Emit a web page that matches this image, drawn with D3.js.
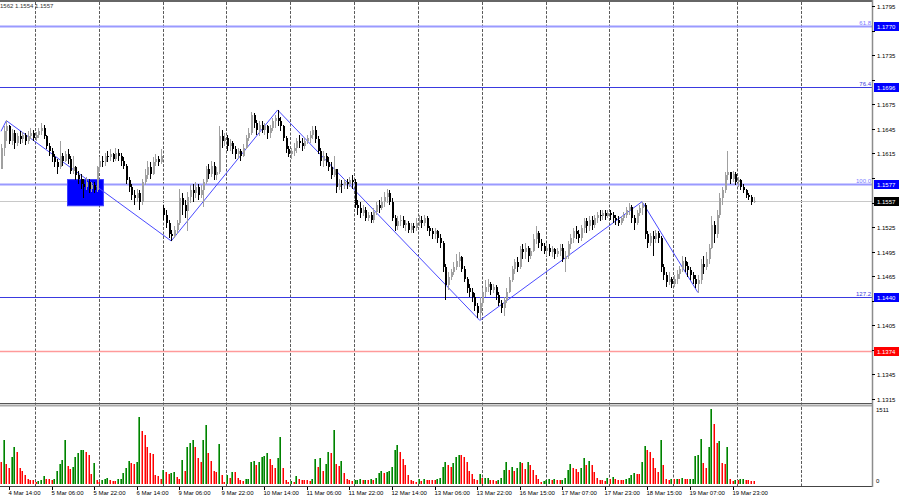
<!DOCTYPE html>
<html>
<head>
<meta charset="utf-8" />
<style>
body { margin:0; background:#fff; }
svg text { font-family: "Liberation Sans", Arial, sans-serif; font-size:6px; }
</style>
</head>
<body>
<svg id="chart" width="900" height="500" xmlns="http://www.w3.org/2000/svg"></svg>
<script src="https://d3js.org/d3.v7.min.js"></script>
<script>

// EURUSD H1, 4 Mar 11:00 .. 20 Mar 07:00, one entry per hourly bar
var opens = [
1.1596,1.1622,1.1642,1.1648,1.1630,1.1640,1.1628,1.1636,1.1632,1.1638,
1.1630,1.1636,1.1640,1.1634,1.1638,1.1642,1.1646,1.1636,1.1624,1.1618,
1.1610,1.1604,1.1598,1.1612,1.1606,1.1614,1.1608,1.1594,1.1598,1.1588,
1.1584,1.1578,1.1574,1.1580,1.1572,1.1576,1.1570,1.1598,1.1606,1.1604,
1.1612,1.1610,1.1614,1.1608,1.1616,1.1612,1.1606,1.1600,1.1582,1.1574,
1.1564,1.1560,1.1566,1.1556,1.1580,1.1588,1.1598,1.1590,1.1604,1.1608,
1.1604,1.1548,1.1540,1.1530,1.1516,1.1514,1.1522,1.1530,1.1560,1.1552,
1.1545,1.1562,1.1570,1.1566,1.1574,1.1564,1.1570,1.1580,1.1596,1.1590,
1.1600,1.1588,1.1592,1.1636,1.1630,1.1634,1.1624,1.1628,1.1620,1.1614,
1.1618,1.1612,1.1622,1.1634,1.1640,1.1662,1.1652,1.1644,1.1650,1.1644,
1.1648,1.1640,1.1646,1.1654,1.1658,1.1654,1.1648,1.1634,1.1620,1.1614,
1.1618,1.1622,1.1630,1.1628,1.1624,1.1630,1.1634,1.1638,1.1644,1.1632,
1.1618,1.1606,1.1612,1.1604,1.1598,1.1588,1.1596,1.1574,1.1578,1.1576,
1.1580,1.1578,1.1582,1.1580,1.1552,1.1548,1.1542,1.1546,1.1536,1.1540,
1.1534,1.1544,1.1552,1.1548,1.1556,1.1562,1.1566,1.1556,1.1536,1.1526,
1.1532,1.1534,1.1528,1.1530,1.1522,1.1526,1.1524,1.1530,1.1534,1.1530,
1.1536,1.1524,1.1520,1.1516,1.1520,1.1512,1.1506,1.1476,1.1454,1.1464,
1.1470,1.1476,1.1484,1.1488,1.1474,1.1462,1.1450,1.1446,1.1440,1.1428,
1.1420,1.1432,1.1446,1.1452,1.1456,1.1448,1.1452,1.1442,1.1432,1.1426,
1.1436,1.1446,1.1460,1.1474,1.1482,1.1476,1.1498,1.1494,1.1500,1.1490,
1.1496,1.1510,1.1518,1.1506,1.1502,1.1496,1.1500,1.1494,1.1498,1.1492,
1.1496,1.1500,1.1486,1.1490,1.1504,1.1512,1.1520,1.1516,1.1512,1.1524,
1.1532,1.1526,1.1534,1.1528,1.1536,1.1540,1.1538,1.1542,1.1538,1.1542,
1.1540,1.1536,1.1534,1.1530,1.1536,1.1540,1.1546,1.1550,1.1536,1.1530,
1.1542,1.1548,1.1552,1.1516,1.1506,1.1514,1.1510,1.1518,1.1512,1.1476,
1.1466,1.1458,1.1462,1.1456,1.1462,1.1468,1.1474,1.1484,1.1478,1.1472,
1.1466,1.1462,1.1456,1.1460,1.1480,1.1476,1.1486,1.1500,1.1528,1.1516,
1.1540,1.1560,1.1570,1.1588,1.1592,1.1584,1.1590,1.1580,1.1582,1.1574,
1.1570,1.1564,1.1562,1.1556];

var highs = [
1.1626,1.1648,1.1656,1.1650,1.1645,1.1644,1.1640,1.1642,1.1641,1.1640,
1.1642,1.1646,1.1644,1.1641,1.1646,1.1652,1.1650,1.1638,1.1628,1.1622,
1.1614,1.1608,1.1630,1.1616,1.1618,1.1620,1.1612,1.1612,1.1600,1.1594,
1.1590,1.1584,1.1586,1.1584,1.1580,1.1580,1.1600,1.1610,1.1612,1.1616,
1.1618,1.1620,1.1616,1.1622,1.1620,1.1616,1.1610,1.1602,1.1586,1.1578,
1.1570,1.1572,1.1570,1.1584,1.1596,1.1606,1.1604,1.1610,1.1614,1.1612,
1.1620,1.1552,1.1546,1.1534,1.1522,1.1526,1.1534,1.1572,1.1566,1.1558,
1.1568,1.1576,1.1578,1.1580,1.1578,1.1576,1.1584,1.1600,1.1602,1.1606,
1.1604,1.1598,1.1648,1.1644,1.1640,1.1638,1.1632,1.1630,1.1624,1.1622,
1.1620,1.1626,1.1638,1.1646,1.1666,1.1664,1.1656,1.1654,1.1654,1.1652,
1.1650,1.1650,1.1658,1.1662,1.1668,1.1660,1.1650,1.1636,1.1624,1.1622,
1.1628,1.1634,1.1638,1.1634,1.1634,1.1638,1.1642,1.1648,1.1648,1.1636,
1.1622,1.1618,1.1616,1.1610,1.1604,1.1612,1.1596,1.1584,1.1582,1.1584,
1.1584,1.1586,1.1588,1.1584,1.1558,1.1556,1.1552,1.1550,1.1544,1.1544,
1.1548,1.1556,1.1558,1.1562,1.1568,1.1572,1.1570,1.1560,1.1540,1.1538,
1.1540,1.1538,1.1534,1.1532,1.1530,1.1530,1.1536,1.1540,1.1538,1.1540,
1.1538,1.1526,1.1524,1.1524,1.1522,1.1516,1.1508,1.1480,1.1470,1.1474,
1.1482,1.1492,1.1494,1.1490,1.1478,1.1464,1.1456,1.1450,1.1444,1.1432,
1.1440,1.1450,1.1460,1.1462,1.1458,1.1456,1.1454,1.1446,1.1436,1.1440,
1.1450,1.1464,1.1478,1.1486,1.1488,1.1502,1.1504,1.1506,1.1502,1.1500,
1.1516,1.1526,1.1520,1.1510,1.1506,1.1504,1.1504,1.1502,1.1500,1.1500,
1.1504,1.1504,1.1496,1.1508,1.1516,1.1524,1.1526,1.1522,1.1528,1.1536,
1.1536,1.1538,1.1538,1.1540,1.1544,1.1546,1.1546,1.1546,1.1546,1.1546,
1.1544,1.1540,1.1538,1.1538,1.1544,1.1550,1.1554,1.1552,1.1540,1.1546,
1.1552,1.1556,1.1554,1.1520,1.1518,1.1520,1.1522,1.1520,1.1514,1.1480,
1.1470,1.1470,1.1464,1.1466,1.1472,1.1478,1.1490,1.1488,1.1482,1.1476,
1.1470,1.1466,1.1466,1.1486,1.1490,1.1494,1.1504,1.1538,1.1532,1.1546,
1.1566,1.1574,1.1592,1.1618,1.1592,1.1594,1.1592,1.1586,1.1584,1.1578,
1.1572,1.1566,1.1564,1.1562];

var lows = [
1.1596,1.1612,1.1630,1.1626,1.1625,1.1620,1.1624,1.1627,1.1628,1.1625,
1.1626,1.1632,1.1630,1.1630,1.1634,1.1638,1.1632,1.1620,1.1612,1.1604,
1.1598,1.1590,1.1596,1.1600,1.1604,1.1602,1.1590,1.1590,1.1582,1.1578,
1.1572,1.1560,1.1570,1.1566,1.1568,1.1566,1.1568,1.1594,1.1598,1.1600,
1.1604,1.1606,1.1604,1.1606,1.1606,1.1600,1.1596,1.1578,1.1568,1.1558,
1.1552,1.1556,1.1546,1.1552,1.1576,1.1584,1.1584,1.1588,1.1600,1.1600,
1.1602,1.1534,1.1524,1.1512,1.1508,1.1512,1.1516,1.1528,1.1540,1.1536,
1.1520,1.1554,1.1556,1.1560,1.1558,1.1560,1.1550,1.1578,1.1584,1.1586,
1.1582,1.1582,1.1590,1.1622,1.1624,1.1618,1.1618,1.1614,1.1608,1.1608,
1.1606,1.1610,1.1620,1.1630,1.1638,1.1646,1.1638,1.1636,1.1640,1.1638,
1.1632,1.1634,1.1642,1.1646,1.1648,1.1642,1.1630,1.1616,1.1610,1.1608,
1.1612,1.1616,1.1622,1.1618,1.1620,1.1626,1.1628,1.1632,1.1628,1.1614,
1.1600,1.1598,1.1600,1.1594,1.1584,1.1586,1.1566,1.1570,1.1566,1.1572,
1.1572,1.1574,1.1572,1.1548,1.1540,1.1536,1.1538,1.1532,1.1532,1.1530,
1.1530,1.1540,1.1542,1.1546,1.1550,1.1554,1.1552,1.1532,1.1520,1.1522,
1.1526,1.1524,1.1520,1.1518,1.1518,1.1518,1.1520,1.1526,1.1524,1.1526,
1.1520,1.1514,1.1510,1.1510,1.1506,1.1500,1.1470,1.1436,1.1448,1.1460,
1.1466,1.1472,1.1476,1.1470,1.1458,1.1444,1.1440,1.1434,1.1422,1.1414,
1.1411,1.1428,1.1440,1.1446,1.1442,1.1444,1.1436,1.1428,1.1420,1.1416,
1.1432,1.1444,1.1458,1.1468,1.1470,1.1474,1.1486,1.1486,1.1482,1.1486,
1.1494,1.1504,1.1500,1.1496,1.1492,1.1490,1.1490,1.1488,1.1486,1.1488,
1.1490,1.1482,1.1470,1.1486,1.1498,1.1506,1.1510,1.1506,1.1508,1.1518,
1.1518,1.1520,1.1522,1.1524,1.1530,1.1532,1.1534,1.1534,1.1536,1.1534,
1.1530,1.1528,1.1526,1.1528,1.1532,1.1536,1.1540,1.1530,1.1522,1.1528,
1.1538,1.1540,1.1510,1.1500,1.1502,1.1490,1.1506,1.1506,1.1470,1.1460,
1.1452,1.1454,1.1450,1.1452,1.1456,1.1462,1.1470,1.1470,1.1464,1.1460,
1.1456,1.1450,1.1445,1.1456,1.1468,1.1472,1.1480,1.1498,1.1506,1.1512,
1.1536,1.1552,1.1566,1.1582,1.1578,1.1580,1.1576,1.1574,1.1570,1.1566,
1.1560,1.1558,1.1552,1.1554];

var closes = [
1.1622,1.1642,1.1648,1.1630,1.1640,1.1628,1.1636,1.1632,1.1638,1.1630,
1.1636,1.1640,1.1634,1.1638,1.1642,1.1646,1.1636,1.1624,1.1618,1.1610,
1.1604,1.1598,1.1612,1.1606,1.1614,1.1608,1.1594,1.1598,1.1588,1.1584,
1.1578,1.1574,1.1580,1.1572,1.1576,1.1570,1.1598,1.1606,1.1604,1.1612,
1.1610,1.1614,1.1608,1.1616,1.1612,1.1606,1.1600,1.1582,1.1574,1.1564,
1.1560,1.1566,1.1556,1.1580,1.1588,1.1598,1.1590,1.1604,1.1608,1.1604,
1.1612,1.1540,1.1530,1.1516,1.1514,1.1522,1.1530,1.1560,1.1552,1.1545,
1.1562,1.1570,1.1566,1.1574,1.1564,1.1570,1.1580,1.1596,1.1590,1.1600,
1.1588,1.1592,1.1636,1.1630,1.1634,1.1624,1.1628,1.1620,1.1614,1.1618,
1.1612,1.1622,1.1634,1.1640,1.1662,1.1652,1.1644,1.1650,1.1644,1.1648,
1.1640,1.1646,1.1654,1.1658,1.1654,1.1648,1.1634,1.1620,1.1614,1.1618,
1.1622,1.1630,1.1628,1.1624,1.1630,1.1634,1.1638,1.1644,1.1632,1.1618,
1.1606,1.1612,1.1604,1.1598,1.1588,1.1596,1.1574,1.1578,1.1576,1.1580,
1.1578,1.1582,1.1580,1.1552,1.1548,1.1542,1.1546,1.1536,1.1540,1.1534,
1.1544,1.1552,1.1548,1.1556,1.1562,1.1566,1.1556,1.1536,1.1526,1.1532,
1.1534,1.1528,1.1530,1.1522,1.1526,1.1524,1.1530,1.1534,1.1530,1.1536,
1.1524,1.1520,1.1516,1.1520,1.1512,1.1506,1.1476,1.1454,1.1464,1.1470,
1.1476,1.1484,1.1488,1.1474,1.1462,1.1450,1.1446,1.1440,1.1428,1.1420,
1.1432,1.1446,1.1452,1.1456,1.1448,1.1452,1.1442,1.1432,1.1426,1.1436,
1.1446,1.1460,1.1474,1.1482,1.1476,1.1498,1.1494,1.1500,1.1490,1.1496,
1.1510,1.1518,1.1506,1.1502,1.1496,1.1500,1.1494,1.1498,1.1492,1.1496,
1.1500,1.1486,1.1490,1.1504,1.1512,1.1520,1.1516,1.1512,1.1524,1.1532,
1.1526,1.1534,1.1528,1.1536,1.1540,1.1538,1.1542,1.1538,1.1542,1.1540,
1.1536,1.1534,1.1530,1.1536,1.1540,1.1546,1.1550,1.1536,1.1530,1.1542,
1.1548,1.1552,1.1516,1.1506,1.1514,1.1510,1.1518,1.1512,1.1476,1.1466,
1.1458,1.1462,1.1456,1.1462,1.1468,1.1474,1.1484,1.1478,1.1472,1.1466,
1.1462,1.1456,1.1460,1.1480,1.1476,1.1486,1.1500,1.1528,1.1516,1.1540,
1.1560,1.1570,1.1588,1.1592,1.1584,1.1590,1.1580,1.1582,1.1574,1.1570,
1.1564,1.1562,1.1556,1.1557];

var volumes = [
440,890,400,320,545,745,645,320,260,180,
100,80,75,50,60,90,160,100,95,80,
100,260,400,485,890,360,310,350,545,625,
685,695,645,585,200,420,80,50,80,100,
120,80,60,55,100,110,225,320,465,420,
405,440,1350,1070,985,750,625,600,180,170,
100,280,245,200,225,245,140,100,485,260,
750,830,890,750,525,445,890,1190,625,465,
260,250,800,180,50,180,120,245,240,120,
90,60,100,110,440,465,385,445,545,560,
625,510,385,320,525,950,320,80,50,60,
50,170,100,90,80,75,70,100,510,345,
525,260,400,650,625,1090,400,360,465,225,
100,80,60,80,85,100,80,90,80,100,
80,120,225,260,220,250,255,345,685,785,
650,505,390,180,80,60,50,100,60,100,
80,78,76,74,100,120,345,445,390,345,
420,545,585,580,545,445,260,200,100,80,
200,120,125,130,80,75,70,80,120,280,
440,280,345,260,320,440,420,300,440,385,
280,180,100,50,55,80,100,80,100,80,
75,90,130,280,400,320,300,240,320,525,
385,460,385,240,120,80,75,60,120,100,
150,110,90,85,80,110,115,180,220,200,
195,445,770,685,645,520,320,240,885,385,
100,80,110,100,110,100,130,100,95,100,
110,565,585,905,430,320,750,1511,1210,830,
870,420,400,745,100,60,90,80,100,105,
80,75,60,55];

// time axis: label every 16 bars starting at bar 3
var timeLabels = ["4 Mar 14:00","5 Mar 06:00","5 Mar 22:00","6 Mar 14:00","9 Mar 06:00","9 Mar 22:00",
	"10 Mar 14:00","11 Mar 06:00","11 Mar 22:00","12 Mar 14:00","13 Mar 06:00","13 Mar 22:00",
	"16 Mar 15:00","17 Mar 07:00","17 Mar 23:00","18 Mar 15:00","19 Mar 07:00","19 Mar 23:00"];
var labelStart = 3, labelStep = 16;
// day separators (bar index of midnight, drawn between bars)
var daySeps = [12.75,36.75,60.75,84.75,108.75,132.75,156.75,180.75,204.75,228.75,252.75,276.75,300.75];

var priceTicks = [1.1795,1.1765,1.1735,1.1705,1.1675,1.1645,1.1615,1.1585,1.1555,1.1525,1.1495,1.1465,1.1435,1.1405,1.1375,1.1345,1.1315];

// fibo levels and other horizontal lines
var levelPrices = [1.1770, 1.1696, 1.1577, 1.1440, 1.1374];
var levelNames  = ["61.8", "76.4", "100.0", "127.2", ""];
var levelKinds  = ["light", "dark", "light", "dark", "red"];
var lastPrice = 1.1557;

// zigzag turning points: [bar index, price]
var zigzag = [[0,1.1642],[2,1.1655],[64,1.1508],[104,1.1668],[180,1.1411],[241,1.1556],[262,1.1445]];
// blue box: bars 25..38.5, price 1.1551..1.1583
var boxBars = [25, 38.5], boxPrices = [1.1551, 1.1583];

var volMax = 1511;

var svg = d3.select("#chart");
var W = 900, H = 500, plotRight = 872;

var x = d3.scaleLinear().domain([0, 283]).range([1, 1 + 2.66 * 283]);
var y = d3.scaleLinear().domain([1.1315, 1.1795]).range([399, 6]);
var yv = d3.scaleLinear().domain([0, volMax]).range([484, 409]);

svg.append("rect").attr("width", W).attr("height", H).attr("fill", "#fff");

var clip = svg.append("defs").append("clipPath").attr("id", "plot");
clip.append("rect").attr("x", 0).attr("y", 2).attr("width", plotRight).attr("height", 401);

// day separators
svg.append("g").selectAll("line").data(daySeps).join("line")
	.attr("x1", d => Math.round(x(d)) + 0.5).attr("x2", d => Math.round(x(d)) + 0.5)
	.attr("y1", 2).attr("y2", 486)
	.attr("stroke", "#5a5a5a").attr("stroke-dasharray", "3,1.5");

// horizontal levels
var lvlColor = {light: "#9a9aff", dark: "#3a3ae0", red: "#ff9a9a"};
var lvlWidth = {light: 2, dark: 1, red: 1.5};
svg.append("line").attr("x1", 0).attr("x2", plotRight)
	.attr("y1", Math.round(y(lastPrice)) + 0.5).attr("y2", Math.round(y(lastPrice)) + 0.5)
	.attr("stroke", "#c8c8c8");
var lv = svg.append("g");
levelPrices.forEach(function(p, k) {
	var yy = Math.round(y(p)) + 0.5;
	lv.append("line").attr("x1", 0).attr("x2", plotRight).attr("y1", yy).attr("y2", yy)
		.attr("stroke", lvlColor[levelKinds[k]]).attr("stroke-width", lvlWidth[levelKinds[k]]);
	if (levelNames[k])
		lv.append("text").attr("x", plotRight - 1).attr("y", yy - 2).attr("text-anchor", "end")
			.attr("fill", levelKinds[k] == "light" ? "#7878ff" : "#3a3ae0").text(levelNames[k]);
});

// blue box
svg.append("rect")
	.attr("x", x(boxBars[0])).attr("y", y(boxPrices[1]))
	.attr("width", x(boxBars[1]) - x(boxBars[0])).attr("height", y(boxPrices[0]) - y(boxPrices[1]))
	.attr("fill", "#0000ff").attr("stroke", "#3c3cff").attr("stroke-width", 1);

// zigzag
svg.append("path").attr("clip-path", "url(#plot)")
	.attr("d", d3.line().x(d => x(d[0])).y(d => y(d[1]))(zigzag))
	.attr("fill", "none").attr("stroke", "#4a4aff").attr("stroke-width", 1);

// candles
var bars = d3.range(closes.length);
var cg = svg.append("g").attr("shape-rendering", "crispEdges");
cg.selectAll("rect.wick").data(bars).join("rect").attr("class", "wick")
	.attr("x", i => Math.round(x(i))).attr("width", 1)
	.attr("y", i => y(highs[i])).attr("height", i => Math.max(1, y(lows[i]) - y(highs[i])))
	.attr("fill", i => closes[i] > opens[i] ? "#a0a0a0" : "#000");
cg.selectAll("rect.body").data(bars).join("rect").attr("class", "body")
	.attr("x", i => Math.round(x(i)) - 0.5).attr("width", 2)
	.attr("y", i => y(Math.max(opens[i], closes[i])))
	.attr("height", i => Math.max(1, Math.abs(y(opens[i]) - y(closes[i]))))
	.attr("fill", i => closes[i] > opens[i] ? "#a0a0a0" : "#000");

// volumes (green when volume grew against previous bar)
var vg = svg.append("g").attr("shape-rendering", "crispEdges");
var up = i => i > 0 && volumes[i] > volumes[i - 1];
vg.selectAll("rect.v").data(bars).join("rect").attr("class", "v")
	.attr("x", i => Math.round(x(i)) - 1).attr("width", 2)
	.attr("y", i => yv(volumes[i])).attr("height", i => 484 - yv(volumes[i]))
	.attr("fill", i => up(i) ? "#008000" : "#ff0000");
vg.selectAll("rect.vl").data(bars).join("rect").attr("class", "vl")
	.attr("x", i => Math.round(x(i)) - 1).attr("width", 1)
	.attr("y", i => yv(volumes[i])).attr("height", i => 484 - yv(volumes[i]))
	.attr("fill", i => up(i) ? "#5cb85c" : "#ff8080");

// frame
svg.append("line").attr("x1", 0).attr("x2", plotRight).attr("y1", 1).attr("y2", 1)
	.attr("stroke", "#666").attr("stroke-width", 2);
svg.append("line").attr("x1", 0).attr("x2", plotRight).attr("y1", 403.5).attr("y2", 403.5).attr("stroke", "#555");
svg.append("line").attr("x1", 0).attr("x2", plotRight).attr("y1", 405.5).attr("y2", 405.5)
	.attr("stroke", "#aaa").attr("stroke-width", 2);
svg.append("line").attr("x1", 0).attr("x2", plotRight).attr("y1", 486.5).attr("y2", 486.5).attr("stroke", "#444");
svg.append("line").attr("x1", plotRight + 0.5).attr("x2", plotRight + 0.5).attr("y1", 0).attr("y2", 487)
	.attr("stroke", "#8c8c8c").attr("stroke-width", 1.5);

// price axis; tick labels that would sit under a price box are left out
var boxed = levelPrices.concat([lastPrice]);
var pa = svg.append("g");
priceTicks.forEach(function(p) {
	var yy = Math.round(y(p)) + 0.5;
	pa.append("line").attr("x1", plotRight).attr("x2", plotRight + 3).attr("y1", yy).attr("y2", yy).attr("stroke", "#000");
	var hidden = boxed.some(b => Math.abs(y(b) - y(p)) < 8);
	if (!hidden)
		pa.append("text").attr("x", 877).attr("y", yy).attr("dy", "0.35em").attr("fill", "#000").text(p.toFixed(4));
});

// price boxes on the axis
function priceBox(p, bg) {
	var yy = Math.round(y(p)) + 0.5;
	pa.append("rect").attr("x", 874).attr("y", yy - 4.5).attr("width", 25).attr("height", 9).attr("fill", bg);
	pa.append("text").attr("x", 877).attr("y", yy).attr("dy", "0.35em").attr("fill", "#fff").text(p.toFixed(4));
}
levelPrices.forEach(function(p, k) { priceBox(p, levelKinds[k] == "red" ? "#ff0000" : "#0000ff"); });
priceBox(lastPrice, "#000");

// volume axis
pa.append("text").attr("x", 876).attr("y", 410).attr("dy", "0.35em").text(volMax);
pa.append("text").attr("x", 876).attr("y", 481).attr("dy", "0.35em").text("0");

// time axis
var ta = svg.append("g");
timeLabels.forEach(function(t, k) {
	var xx = Math.round(x(labelStart + k * labelStep)) + 0.5;
	ta.append("line").attr("x1", xx).attr("x2", xx).attr("y1", 487).attr("y2", 490).attr("stroke", "#000");
	ta.append("text").attr("x", xx - 1).attr("y", 495).text(t);
});

// header: last bar OHLC
svg.append("text").attr("x", 0).attr("y", 8).attr("fill", "#333").text("1562 1.1554 1.1557");

</script>
</body>
</html>
